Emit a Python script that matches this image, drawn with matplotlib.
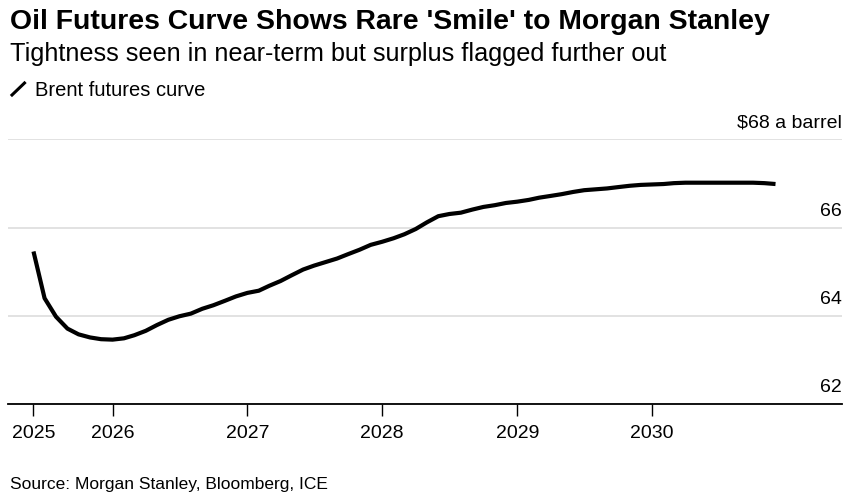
import matplotlib
matplotlib.use("Agg")
import matplotlib.pyplot as plt
import pandas as pd
from matplotlib.lines import Line2D

# ---- data ----
start_month = "2025-06-01"
brent_curve = [
    65.46, 64.40, 63.98, 63.71, 63.58, 63.51, 63.47, 63.46, 63.49, 63.56,
    63.66, 63.79, 63.91, 63.99, 64.05, 64.16, 64.24, 64.34, 64.44, 64.52,
    64.57, 64.68, 64.79, 64.92, 65.05, 65.14, 65.22, 65.30, 65.40, 65.50,
    65.61, 65.68, 65.76, 65.85, 65.97, 66.12, 66.26, 66.31, 66.34, 66.41,
    66.47, 66.51, 66.56, 66.59, 66.63, 66.68, 66.72, 66.76, 66.81, 66.85,
    66.87, 66.89, 66.92, 66.95, 66.97, 66.98, 66.99, 67.01, 67.02, 67.02,
    67.02, 67.02, 67.02, 67.02, 67.02, 67.01, 66.99,
]
x_tick_dates = ["2025-06-01", "2026-01-01", "2027-01-01", "2028-01-01",
                "2029-01-01", "2030-01-01"]
x_tick_labels = ["2025", "2026", "2027", "2028", "2029", "2030"]
y_ticks = [62, 64, 66, 68]
y_tick_labels = ["62", "64", "66", "$68 a barrel"]

title = "Oil Futures Curve Shows Rare 'Smile' to Morgan Stanley"
subtitle = "Tightness seen in near-term but surplus flagged further out"
legend_label = "Brent futures curve"
source = "Source: Morgan Stanley, Bloomberg, ICE"

dates = pd.date_range(start_month, periods=len(brent_curve), freq="MS")

# ---- figure ----
plt.rcParams['font.family'] = ['Liberation Sans', 'DejaVu Sans']
fig = plt.figure(figsize=(8.6, 5.0), dpi=100)
ax = fig.add_axes([8/860, 96/500, (842-8)/860, (404-139.5)/500])

ax.plot(dates, brent_curve, color="black", lw=3.0, solid_capstyle="butt",
        solid_joinstyle="round")

ax.set_xlim(pd.Timestamp("2025-03-24"), pd.Timestamp("2031-05-30"))
ax.set_ylim(62, 68)

for s in ["left", "right", "top"]:
    ax.spines[s].set_visible(False)
ax.spines["bottom"].set_color("black")
ax.spines["bottom"].set_linewidth(1.3)

ax.set_xticks(pd.to_datetime(x_tick_dates))
ax.set_xticklabels(x_tick_labels, fontsize=14)
ax.tick_params(axis="x", length=8.5, width=1.0, color="black", pad=6.5)

ax.set_yticks(y_ticks)
ax.set_yticklabels([])
ax.tick_params(axis="y", length=0)
ax.grid(axis="y", color="#dddddd", lw=1.2)
ax.set_axisbelow(True)

for v, lab in zip(y_ticks, y_tick_labels):
    ax.annotate(lab, xy=(1.0, v), xycoords=("axes fraction", "data"),
                xytext=(0, 5.5), textcoords="offset points",
                ha="right", va="bottom", fontsize=14, color="black")

# ---- texts ----
fig.text(10/860, 1 - 29/500, title, fontsize=20.4, fontweight="bold",
         ha="left", va="baseline", color="black")
fig.text(10/860, 1 - 61/500, subtitle, fontsize=18.2,
         ha="left", va="baseline", color="black")
fig.add_artist(Line2D([12/860, 24.5/860], [1 - 95/500, 1 - 83/500],
                      color="black", lw=2.2, transform=fig.transFigure))
fig.text(35/860, 1 - 95.5/500, legend_label, fontsize=14.5,
         ha="left", va="baseline", color="black")
fig.text(10/860, 1 - 489.5/500, source, fontsize=12.5,
         ha="left", va="baseline", color="black")

fig.savefig("out.png", dpi=100)
